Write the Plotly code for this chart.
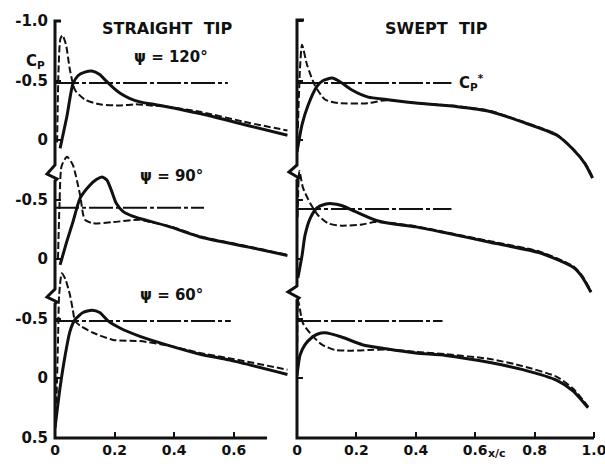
import plotly.graph_objects as go

# ---------------- data ----------------
panel_titles = ["STRAIGHT\u00a0\u00a0TIP", "SWEPT\u00a0\u00a0TIP"]
psi_labels = ["\u03c8 = 120\u00b0", "\u03c8 = 90\u00b0", "\u03c8 = 60\u00b0"]

x_ticks_straight = [0, 0.2, 0.4, 0.6]
x_ticklabels_straight = ["0", "0.2", "0.4", "0.6"]
x_ticks_swept = [0, 0.2, 0.4, 0.6, 0.8, 1.0]
x_ticklabels_swept = ["0", "0.2", "0.4", "0.6", "0.8", "1.0"]

cp_ticks_120 = [-1.0, -0.5, 0]
cp_ticklabels_120 = ["-1.0", "-0.5", "0"]
cp_ticks_90 = [-0.5, 0]
cp_ticklabels_90 = ["-0.5", "0"]
cp_ticks_60 = [-0.5, 0, 0.5]
cp_ticklabels_60 = ["-0.5", "0", "0.5"]

# critical pressure coefficient Cp* (level, chordwise end of line)
cp_star_straight = [-0.48, -0.43, -0.48]
cp_star_straight_end = [0.58, 0.50, 0.59]
cp_star_swept = [-0.48, -0.42, -0.48]
cp_star_swept_end = [0.52, 0.52, 0.49]

# ---- straight tip ----
st120_solid_x = [0.017, 0.04, 0.06, 0.077, 0.10, 0.124, 0.15, 0.17, 0.195, 0.22, 0.25, 0.285, 0.33, 0.375, 0.49, 0.65, 0.78]
st120_solid_cp = [0.07, -0.20, -0.47, -0.54, -0.57, -0.58, -0.55, -0.50, -0.44, -0.39, -0.35, -0.32, -0.30, -0.28, -0.22, -0.12, -0.04]
st120_dash_x = [0.007, 0.012, 0.018, 0.025, 0.037, 0.05, 0.067, 0.10, 0.15, 0.22, 0.27, 0.32, 0.375, 0.49, 0.65, 0.78]
st120_dash_cp = [0.02, -0.60, -0.85, -0.88, -0.80, -0.59, -0.42, -0.34, -0.30, -0.29, -0.30, -0.29, -0.28, -0.235, -0.145, -0.08]

st90_solid_x = [0.017, 0.04, 0.06, 0.084, 0.117, 0.14, 0.158, 0.175, 0.19, 0.205, 0.228, 0.26, 0.285, 0.386, 0.487, 0.65, 0.78]
st90_solid_cp = [0.05, -0.15, -0.31, -0.51, -0.62, -0.67, -0.69, -0.66, -0.57, -0.47, -0.40, -0.36, -0.34, -0.27, -0.185, -0.10, -0.03]
st90_dash_x = [0.01, 0.015, 0.022, 0.04, 0.06, 0.084, 0.10, 0.128, 0.195, 0.285, 0.32, 0.386, 0.487, 0.65, 0.78]
st90_dash_cp = [0.0, -0.45, -0.78, -0.86, -0.79, -0.54, -0.33, -0.30, -0.31, -0.33, -0.31, -0.275, -0.19, -0.105, -0.035]

st60_solid_x = [0.0, 0.017, 0.034, 0.05, 0.067, 0.094, 0.124, 0.15, 0.178, 0.218, 0.285, 0.386, 0.487, 0.587, 0.78]
st60_solid_cp = [0.42, 0.08, -0.19, -0.39, -0.49, -0.55, -0.57, -0.55, -0.48, -0.42, -0.35, -0.27, -0.20, -0.15, -0.03]
st60_dash_x = [0.004, 0.01, 0.014, 0.023, 0.035, 0.05, 0.06, 0.067, 0.084, 0.128, 0.195, 0.285, 0.386, 0.487, 0.587, 0.78]
st60_dash_cp = [0.30, -0.30, -0.70, -0.88, -0.83, -0.70, -0.57, -0.48, -0.44, -0.38, -0.32, -0.31, -0.27, -0.21, -0.165, -0.07]

# ---- swept tip ----
sw120_solid_x = [0.0, 0.017, 0.037, 0.067, 0.088, 0.118, 0.145, 0.185, 0.24, 0.30, 0.40, 0.54, 0.65, 0.76, 0.875, 0.93, 0.97, 0.995]
sw120_solid_cp = [0.10, -0.13, -0.29, -0.45, -0.50, -0.52, -0.49, -0.42, -0.36, -0.34, -0.31, -0.28, -0.24, -0.15, -0.04, 0.08, 0.20, 0.32]
sw120_dash_x = [0.003, 0.01, 0.017, 0.034, 0.06, 0.094, 0.138, 0.24, 0.30, 0.40, 0.54, 0.65, 0.76, 0.875, 0.93, 0.97, 0.995]
sw120_dash_cp = [-0.10, -0.60, -0.80, -0.63, -0.46, -0.34, -0.31, -0.31, -0.335, -0.31, -0.285, -0.245, -0.155, -0.045, 0.075, 0.195, 0.31]

sw90_solid_x = [0.003, 0.017, 0.027, 0.044, 0.067, 0.094, 0.118, 0.15, 0.195, 0.26, 0.31, 0.40, 0.50, 0.65, 0.82, 0.93, 0.96, 0.99]
sw90_solid_cp = [0.16, -0.03, -0.20, -0.34, -0.43, -0.46, -0.465, -0.45, -0.40, -0.33, -0.30, -0.27, -0.22, -0.14, -0.05, 0.07, 0.15, 0.28]
sw90_dash_x = [0.002, 0.008, 0.02, 0.044, 0.07, 0.104, 0.15, 0.22, 0.26, 0.31, 0.40, 0.50, 0.65, 0.82, 0.93, 0.96, 0.99]
sw90_dash_cp = [-0.35, -0.74, -0.60, -0.47, -0.37, -0.30, -0.28, -0.29, -0.31, -0.305, -0.275, -0.225, -0.15, -0.06, 0.06, 0.14, 0.27]

sw60_solid_x = [0.0, 0.01, 0.027, 0.05, 0.07, 0.094, 0.15, 0.22, 0.30, 0.40, 0.50, 0.65, 0.76, 0.875, 0.93, 0.98]
sw60_solid_cp = [-0.02, -0.19, -0.28, -0.34, -0.37, -0.38, -0.345, -0.28, -0.245, -0.21, -0.19, -0.13, -0.07, 0.02, 0.11, 0.25]
sw60_dash_x = [0.001, 0.004, 0.02, 0.05, 0.084, 0.128, 0.185, 0.24, 0.30, 0.40, 0.50, 0.65, 0.76, 0.875, 0.93, 0.98]
sw60_dash_cp = [-0.30, -0.65, -0.46, -0.36, -0.28, -0.235, -0.23, -0.235, -0.24, -0.22, -0.20, -0.16, -0.10, -0.01, 0.09, 0.24]

# ---------------- layout geometry ----------------
W, H = 605, 468
ML, MR, MT, MB = 55, 9, 15, 30
PW = W - ML - MR
PH = H - MT - MB
BOTTOM_PX = H - MB
PX_PER_CP = 119.0
ZERO_ROW_PX = [140, 259, 378]          # pixel row of Cp = 0 for the three psi cases
LEFT_END_PX, RIGHT_START_PX = 291, 297
PX_PER_X = 298.0
PX_PER_X_SWEPT = 297.0


def pxx(px):
    return (px - ML) / PW


def pxy(py):
    return (BOTTOM_PX - py) / PH


def cp_range(zero_px):
    return [(BOTTOM_PX - zero_px) / PX_PER_CP, -(zero_px - MT) / PX_PER_CP]


FONT = "DejaVu Sans"
BLACK = "#111111"

straight = [(st120_solid_x, st120_solid_cp, st120_dash_x, st120_dash_cp),
            (st90_solid_x, st90_solid_cp, st90_dash_x, st90_dash_cp),
            (st60_solid_x, st60_solid_cp, st60_dash_x, st60_dash_cp)]
swept = [(sw120_solid_x, sw120_solid_cp, sw120_dash_x, sw120_dash_cp),
         (sw90_solid_x, sw90_solid_cp, sw90_dash_x, sw90_dash_cp),
         (sw60_solid_x, sw60_solid_cp, sw60_dash_x, sw60_dash_cp)]

fig = go.Figure()

for panel, (sets, xa, yas, stars, star_ends) in enumerate([
        (straight, "x", ["y", "y2", "y3"], cp_star_straight, cp_star_straight_end),
        (swept, "x2", ["y4", "y5", "y6"], cp_star_swept, cp_star_swept_end)]):
    for k, (sx, scp, dx, dcp) in enumerate(sets):
        ya = yas[k]
        fig.add_trace(go.Scatter(x=[0, star_ends[k]], y=[stars[k], stars[k]], xaxis=xa, yaxis=ya,
                                 mode="lines", line=dict(color=BLACK, width=2, dash="24px,3px,4px,3px"),
                                 hoverinfo="skip"))
        fig.add_trace(go.Scatter(x=dx, y=dcp, xaxis=xa, yaxis=ya, mode="lines",
                                 line=dict(color=BLACK, width=2, dash="7px,3px", shape="spline", smoothing=0.6),
                                 hoverinfo="skip"))
        fig.add_trace(go.Scatter(x=sx, y=scp, xaxis=xa, yaxis=ya, mode="lines",
                                 line=dict(color=BLACK, width=3, shape="spline", smoothing=0.6),
                                 hoverinfo="skip"))

tickfont = dict(family=FONT, size=15, color=BLACK, weight="bold")
xtickfont = dict(family=FONT, size=14, color=BLACK, weight="bold")

common_y = dict(showgrid=False, zeroline=False, showline=False, ticks="inside", ticklen=6,
                tickwidth=2, tickcolor=BLACK, tickfont=tickfont, ticklabelstandoff=6, automargin=False)
common_x = dict(showgrid=False, zeroline=False, showline=False, ticks="inside", ticklen=6,
                tickwidth=2, tickcolor=BLACK, tickfont=xtickfont, ticklabelstandoff=2,
                ticklabeloverflow="allow", automargin=False)

tick_sets = [(cp_ticks_120, cp_ticklabels_120), (cp_ticks_90, cp_ticklabels_90), (cp_ticks_60, cp_ticklabels_60)]

layout = dict(
    width=W, height=H, margin=dict(l=ML, r=MR, t=MT, b=MB, autoexpand=False),
    paper_bgcolor="white", plot_bgcolor="white", showlegend=False,
    font=dict(family=FONT, color=BLACK),
    xaxis=dict(domain=[0, pxx(LEFT_END_PX)], range=[0, (LEFT_END_PX - ML) / PX_PER_X], anchor="y",
               tickvals=x_ticks_straight, ticktext=x_ticklabels_straight, **common_x),
    xaxis2=dict(domain=[pxx(RIGHT_START_PX), 1], range=[0, (W - MR - RIGHT_START_PX) / PX_PER_X_SWEPT],
                anchor="y4", tickvals=x_ticks_swept, ticktext=x_ticklabels_swept, **common_x),
)
names = ["yaxis", "yaxis2", "yaxis3", "yaxis4", "yaxis5", "yaxis6"]
for i, nm in enumerate(names):
    k = i % 3
    left = i < 3
    d = dict(range=cp_range(ZERO_ROW_PX[k]), tickvals=tick_sets[k][0], ticktext=tick_sets[k][1],
             anchor="x" if left else "x2", showticklabels=left, **common_y)
    if k == 0:
        d["domain"] = [0, 1]
    else:
        d["overlaying"] = "y" if left else "y4"
    layout[nm] = d
fig.update_layout(**layout)


# axis lines with break marks (decorative frame)
def path(points):
    return "M " + " L ".join(f"{pxx(a):.4f},{pxy(b):.4f}" for a, b in points)


left_axis = [(61, 21), (55, 21), (55, 165), (47, 174), (57, 179), (55, 181), (55, 289), (47, 297),
             (57, 302), (55, 304), (55, BOTTOM_PX), (267, BOTTOM_PX)]
right_axis = [(304, 20), (297, 20), (297, 165), (289, 172), (299, 178), (297, 180), (297, 286),
              (288, 292), (299, 298), (297, 300), (297, BOTTOM_PX), (594, BOTTOM_PX)]
for pts in (left_axis, right_axis):
    fig.add_shape(type="path", xref="paper", yref="paper", path=path(pts),
                  line=dict(color=BLACK, width=3))

ann_font = dict(family=FONT, size=15, color=BLACK, weight="bold")
fig.add_annotation(text=panel_titles[0], xref="x", x=(167 - ML) / PX_PER_X, yref="paper", y=pxy(17),
                   showarrow=False, font=dict(family=FONT, size=16, color=BLACK, weight="bold"))
fig.add_annotation(text=panel_titles[1], xref="x2", x=(436 - RIGHT_START_PX) / PX_PER_X_SWEPT, yref="paper",
                   y=pxy(17), showarrow=False, font=dict(family=FONT, size=16, color=BLACK, weight="bold"))
for k, ya in enumerate(["y", "y2", "y3"]):
    fig.add_annotation(text=psi_labels[k], xref="x", x=0.39, yref=ya, y=-0.70, showarrow=False, font=ann_font)
fig.add_annotation(text="C<sub>P</sub>", xref="paper", x=pxx(24), yref="paper", y=pxy(50),
                   showarrow=False, font=ann_font)
fig.add_annotation(text="C<sub>P</sub><sup>*</sup>", xref="x2", x=0.54, yref="y4", y=cp_star_swept[0],
                   xanchor="left", showarrow=False, font=ann_font)
fig.add_annotation(text="x/c", xref="x2", x=(497 - RIGHT_START_PX) / PX_PER_X_SWEPT, yref="paper", y=pxy(462),
                   showarrow=False, font=dict(family=FONT, size=11, color=BLACK, weight="bold"))

fig.write_html("out.html")
